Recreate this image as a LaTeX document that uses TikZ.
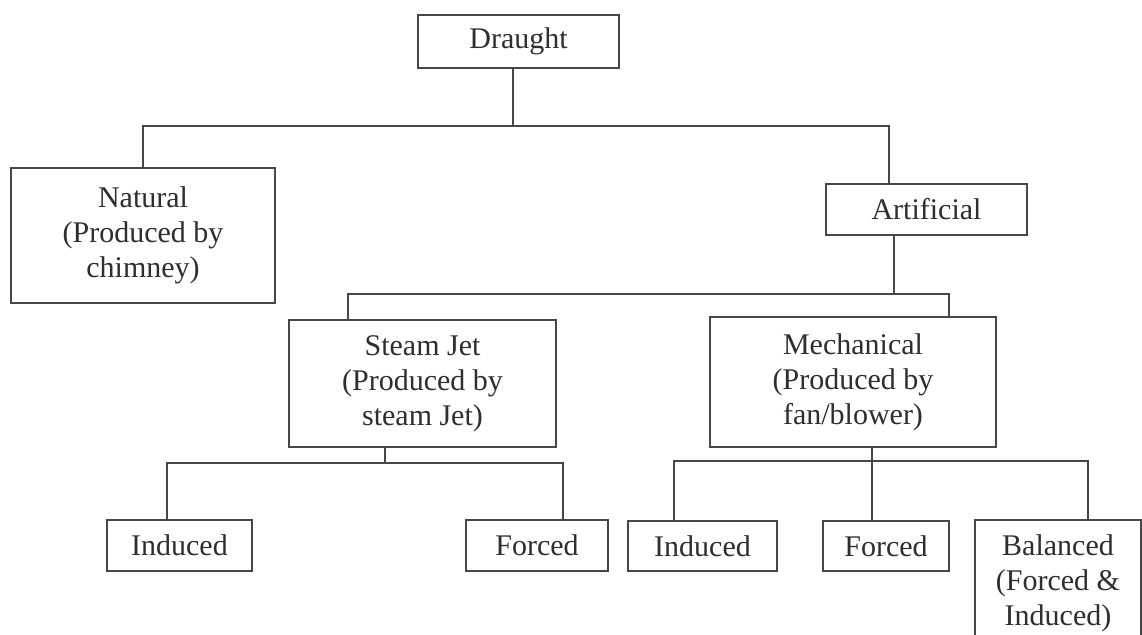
\documentclass[tikz,border=0pt]{standalone}
\usepackage{fontspec}
\setmainfont{Liberation Serif}
\definecolor{linec}{HTML}{474747}
\definecolor{txtc}{HTML}{2E2E2E}
\tikzset{
  box/.style={draw=linec, line width=1.3pt, inner sep=0pt, align=center,
    text=txtc, font=\fontsize{15}{17.5}\selectfont, rectangle},
  conn/.style={draw=linec, line width=1.3pt}
}
\begin{document}
\begin{tikzpicture}[x=0.5pt,y=-0.5pt]
\useasboundingbox (0,0) rectangle (1142,634);
\fill[white] (0,0) rectangle (1142,634);
\clip (0,0) rectangle (1142,634);
% nodes
\node[box, minimum width=100.5pt, minimum height=26.5pt] (draught) at (518.5,41.5) {Draught};
\node[box, minimum width=132pt, minimum height=67.5pt] (natural) at (143,235.5) {Natural\\(Produced by\\chimney)};
\node[box, minimum width=100.5pt, minimum height=25.5pt] (artificial) at (926.5,209.5) {Artificial};
\node[box, minimum width=133.5pt, minimum height=63.5pt] (steam) at (422.5,383.5) {Steam Jet\\(Produced by\\steam Jet)};
\node[box, minimum width=143pt, minimum height=65pt] (mech) at (853,382) {Mechanical\\(Produced by\\fan/blower)};
\node[box, minimum width=72.5pt, minimum height=25.5pt] (ind1) at (179.5,545.5) {Induced};
\node[box, minimum width=71pt, minimum height=25.5pt] (for1) at (537,545.5) {Forced};
\node[box, minimum width=74.5pt, minimum height=25pt] (ind2) at (702.5,546) {Induced};
\node[box, minimum width=63pt, minimum height=25pt] (for2) at (886,546) {Forced};
\node[box, minimum width=83pt, minimum height=63.5pt] (bal) at (1058,583.5) {Balanced\\(Forced \&\\Induced)};
% junctions
\coordinate (j1) at (513,126);
\coordinate (j2) at (894,294);
\coordinate (j3) at (385,463);
\coordinate (j4) at (872,461);
% connectors
\draw[conn] (draught.south -| j1) -- (j1);
\draw[conn] (natural.north) |- (j1);
\draw[conn] (j1) -| (artificial.north -| 889,0);
\draw[conn] (artificial.south -| j2) -- (j2);
\draw[conn] (steam.north -| 348,0) |- (j2);
\draw[conn] (j2) -| (mech.north -| 949,0);
\draw[conn] (steam.south -| j3) -- (j3);
\draw[conn] (ind1.north -| 167,0) |- (j3);
\draw[conn] (j3) -| (for1.north -| 563,0);
\draw[conn] (mech.south -| j4) -- (for2.north -| j4);
\draw[conn] (ind2.north -| 674,0) |- (j4);
\draw[conn] (j4) -| (bal.north -| 1088,0);
\end{tikzpicture}
\end{document}
